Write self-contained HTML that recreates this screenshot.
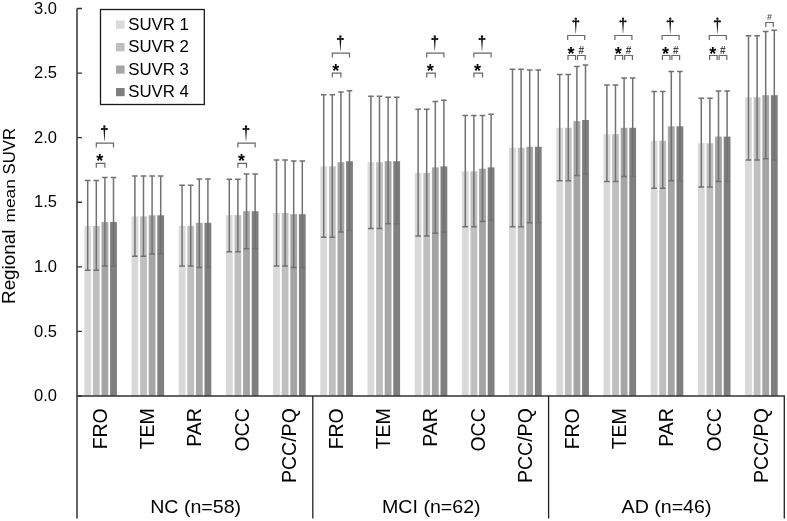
<!DOCTYPE html><html><head><meta charset="utf-8"><style>
html,body{margin:0;padding:0;background:#fff;}
body{width:787px;height:521px;overflow:hidden;}
svg{display:block;font-family:"Liberation Sans",sans-serif;filter:grayscale(1);}
</style></head><body>
<svg width="787" height="521" viewBox="0 0 787 521">
<rect width="787" height="521" fill="#fff"/>
<rect x="84.3" y="226" width="6.8" height="170" fill="#d9d9d9"/>
<rect x="92.9" y="226" width="6.8" height="170" fill="#bfbfbf"/>
<rect x="101.5" y="222" width="6.8" height="174" fill="#a5a5a5"/>
<rect x="110.1" y="222" width="6.8" height="174" fill="#7f7f7f"/>
<rect x="131.5" y="216.4" width="6.8" height="179.6" fill="#d9d9d9"/>
<rect x="140.1" y="216.4" width="6.8" height="179.6" fill="#bfbfbf"/>
<rect x="148.7" y="215.3" width="6.8" height="180.7" fill="#a5a5a5"/>
<rect x="157.3" y="215.3" width="6.8" height="180.7" fill="#7f7f7f"/>
<rect x="178.7" y="225.8" width="6.8" height="170.2" fill="#d9d9d9"/>
<rect x="187.3" y="225.8" width="6.8" height="170.2" fill="#bfbfbf"/>
<rect x="195.9" y="222.8" width="6.8" height="173.2" fill="#a5a5a5"/>
<rect x="204.5" y="222.8" width="6.8" height="173.2" fill="#7f7f7f"/>
<rect x="225.9" y="215.1" width="6.8" height="180.9" fill="#d9d9d9"/>
<rect x="234.5" y="215.1" width="6.8" height="180.9" fill="#bfbfbf"/>
<rect x="243.1" y="211.2" width="6.8" height="184.8" fill="#a5a5a5"/>
<rect x="251.7" y="211.2" width="6.8" height="184.8" fill="#7f7f7f"/>
<rect x="273.1" y="213" width="6.8" height="183" fill="#d9d9d9"/>
<rect x="281.7" y="213" width="6.8" height="183" fill="#bfbfbf"/>
<rect x="290.3" y="214.2" width="6.8" height="181.8" fill="#a5a5a5"/>
<rect x="298.9" y="214.2" width="6.8" height="181.8" fill="#7f7f7f"/>
<rect x="320.3" y="166.4" width="6.8" height="229.6" fill="#d9d9d9"/>
<rect x="328.9" y="166.4" width="6.8" height="229.6" fill="#bfbfbf"/>
<rect x="337.5" y="162.2" width="6.8" height="233.8" fill="#a5a5a5"/>
<rect x="346.1" y="161.2" width="6.8" height="234.8" fill="#7f7f7f"/>
<rect x="367.5" y="162.2" width="6.8" height="233.8" fill="#d9d9d9"/>
<rect x="376.1" y="162.2" width="6.8" height="233.8" fill="#bfbfbf"/>
<rect x="384.7" y="161.2" width="6.8" height="234.8" fill="#a5a5a5"/>
<rect x="393.3" y="161.2" width="6.8" height="234.8" fill="#7f7f7f"/>
<rect x="414.7" y="172.9" width="6.8" height="223.1" fill="#d9d9d9"/>
<rect x="423.3" y="172.9" width="6.8" height="223.1" fill="#bfbfbf"/>
<rect x="431.9" y="167.4" width="6.8" height="228.6" fill="#a5a5a5"/>
<rect x="440.5" y="166.4" width="6.8" height="229.6" fill="#7f7f7f"/>
<rect x="461.9" y="171.3" width="6.8" height="224.7" fill="#d9d9d9"/>
<rect x="470.5" y="171.3" width="6.8" height="224.7" fill="#bfbfbf"/>
<rect x="479.1" y="168.7" width="6.8" height="227.3" fill="#a5a5a5"/>
<rect x="487.7" y="167.4" width="6.8" height="228.6" fill="#7f7f7f"/>
<rect x="509.1" y="147.8" width="6.8" height="248.2" fill="#d9d9d9"/>
<rect x="517.7" y="147.8" width="6.8" height="248.2" fill="#bfbfbf"/>
<rect x="526.3" y="146.8" width="6.8" height="249.2" fill="#a5a5a5"/>
<rect x="534.9" y="146.8" width="6.8" height="249.2" fill="#7f7f7f"/>
<rect x="556.3" y="127.8" width="6.8" height="268.2" fill="#d9d9d9"/>
<rect x="564.9" y="127.8" width="6.8" height="268.2" fill="#bfbfbf"/>
<rect x="573.5" y="121.2" width="6.8" height="274.8" fill="#a5a5a5"/>
<rect x="582.1" y="120" width="6.8" height="276" fill="#7f7f7f"/>
<rect x="603.5" y="134.2" width="6.8" height="261.8" fill="#d9d9d9"/>
<rect x="612.1" y="134.2" width="6.8" height="261.8" fill="#bfbfbf"/>
<rect x="620.7" y="127.8" width="6.8" height="268.2" fill="#a5a5a5"/>
<rect x="629.3" y="127.8" width="6.8" height="268.2" fill="#7f7f7f"/>
<rect x="650.7" y="140.8" width="6.8" height="255.2" fill="#d9d9d9"/>
<rect x="659.3" y="140.8" width="6.8" height="255.2" fill="#bfbfbf"/>
<rect x="667.9" y="126.3" width="6.8" height="269.7" fill="#a5a5a5"/>
<rect x="676.5" y="126.3" width="6.8" height="269.7" fill="#7f7f7f"/>
<rect x="697.9" y="143.2" width="6.8" height="252.8" fill="#d9d9d9"/>
<rect x="706.5" y="143.2" width="6.8" height="252.8" fill="#bfbfbf"/>
<rect x="715.1" y="136.6" width="6.8" height="259.4" fill="#a5a5a5"/>
<rect x="723.7" y="136.6" width="6.8" height="259.4" fill="#7f7f7f"/>
<rect x="745.1" y="97.3" width="6.8" height="298.7" fill="#d9d9d9"/>
<rect x="753.7" y="97.3" width="6.8" height="298.7" fill="#bfbfbf"/>
<rect x="762.3" y="95.2" width="6.8" height="300.8" fill="#a5a5a5"/>
<rect x="770.9" y="95.2" width="6.8" height="300.8" fill="#7f7f7f"/>
<path d="M87.7 180.6V270.2M84.9 180.6H90.5M84.9 270.2H90.5M96.3 180.6V270.2M93.5 180.6H99.1M93.5 270.2H99.1M104.9 177.4V266M102.1 177.4H107.7M102.1 266H107.7M113.5 177.4V266M110.7 177.4H116.3M110.7 266H116.3M134.9 176.1V256.3M132.1 176.1H137.7M132.1 256.3H137.7M143.5 176.1V256.3M140.7 176.1H146.3M140.7 256.3H146.3M152.1 176.1V254M149.3 176.1H154.9M149.3 254H154.9M160.7 176.1V254M157.9 176.1H163.5M157.9 254H163.5M182.1 185.2V266M179.3 185.2H184.9M179.3 266H184.9M190.7 185.2V266M187.9 185.2H193.5M187.9 266H193.5M199.3 179.1V267.6M196.5 179.1H202.1M196.5 267.6H202.1M207.9 179.1V267.6M205.1 179.1H210.7M205.1 267.6H210.7M229.3 179.3V251.7M226.5 179.3H232.1M226.5 251.7H232.1M237.9 179.3V251.7M235.1 179.3H240.7M235.1 251.7H240.7M246.5 174V248.7M243.7 174H249.3M243.7 248.7H249.3M255.1 174V248.7M252.3 174H257.9M252.3 248.7H257.9M276.5 160V266M273.7 160H279.3M273.7 266H279.3M285.1 160V266M282.3 160H287.9M282.3 266H287.9M293.7 161.1V267.6M290.9 161.1H296.5M290.9 267.6H296.5M302.3 161.1V267.6M299.5 161.1H305.1M299.5 267.6H305.1M323.7 94.7V237.2M320.9 94.7H326.5M320.9 237.2H326.5M332.3 94.7V237.2M329.5 94.7H335.1M329.5 237.2H335.1M340.9 92.1V231.9M338.1 92.1H343.7M338.1 231.9H343.7M349.5 90.8V230.6M346.7 90.8H352.3M346.7 230.6H352.3M370.9 96.3V228.4M368.1 96.3H373.7M368.1 228.4H373.7M379.5 96.3V228.4M376.7 96.3H382.3M376.7 228.4H382.3M388.1 97.3V223.8M385.3 97.3H390.9M385.3 223.8H390.9M396.7 97.3V223.8M393.9 97.3H399.5M393.9 223.8H399.5M418.1 109.3V235.9M415.3 109.3H420.9M415.3 235.9H420.9M426.7 109.3V235.9M423.9 109.3H429.5M423.9 235.9H429.5M435.3 101.5V233.2M432.5 101.5H438.1M432.5 233.2H438.1M443.9 100.2V232.3M441.1 100.2H446.7M441.1 232.3H446.7M465.3 115.5V226.7M462.5 115.5H468.1M462.5 226.7H468.1M473.9 115.5V226.7M471.1 115.5H476.7M471.1 226.7H476.7M482.5 115.5V221.5M479.7 115.5H485.3M479.7 221.5H485.3M491.1 114.2V220.2M488.3 114.2H493.9M488.3 220.2H493.9M512.5 69.2V226.7M509.7 69.2H515.3M509.7 226.7H515.3M521.1 69.2V226.7M518.3 69.2H523.9M518.3 226.7H523.9M529.7 70.1V222.8M526.9 70.1H532.5M526.9 222.8H532.5M538.3 70.1V222.8M535.5 70.1H541.1M535.5 222.8H541.1M559.7 74.4V180.7M556.9 74.4H562.5M556.9 180.7H562.5M568.3 74.4V180.7M565.5 74.4H571.1M565.5 180.7H571.1M576.9 66.5V175.6M574.1 66.5H579.7M574.1 175.6H579.7M585.5 65V174.1M582.7 65H588.3M582.7 174.1H588.3M606.9 85V181.6M604.1 85H609.7M604.1 181.6H609.7M615.5 85V181.6M612.7 85H618.3M612.7 181.6H618.3M624.1 78V176.5M621.3 78H626.9M621.3 176.5H626.9M632.7 78V176.5M629.9 78H635.5M629.9 176.5H635.5M654.1 91.6V188.3M651.3 91.6H656.9M651.3 188.3H656.9M662.7 91.6V188.3M659.9 91.6H665.5M659.9 188.3H665.5M671.3 71.4V180.7M668.5 71.4H674.1M668.5 180.7H674.1M679.9 71.4V180.7M677.1 71.4H682.7M677.1 180.7H682.7M701.3 98.3V187.1M698.5 98.3H704.1M698.5 187.1H704.1M709.9 98.3V187.1M707.1 98.3H712.7M707.1 187.1H712.7M718.5 91V181.6M715.7 91H721.3M715.7 181.6H721.3M727.1 91V181.6M724.3 91H729.9M724.3 181.6H729.9M748.5 35.7V159.9M745.7 35.7H751.3M745.7 159.9H751.3M757.1 35.7V159.9M754.3 35.7H759.9M754.3 159.9H759.9M765.7 31.5V158.7M762.9 31.5H768.5M762.9 158.7H768.5M774.3 30.3V159.9M771.5 30.3H777.1M771.5 159.9H777.1" stroke="#717171" stroke-width="1.5" fill="none"/>
<path d="M77 8.5V518.5M76.25 396H784.9" stroke="#333" stroke-width="1.5" fill="none"/>
<path d="M77 396H82M77 331.42H82M77 266.83H82M77 202.25H82M77 137.66H82M77 73.08H82M77 8.49H82" stroke="#333" stroke-width="1.4" fill="none"/>
<path d="M312.8 396V518.5M548.6 396V518.5M784.3 396V518.5" stroke="#222" stroke-width="1.3" fill="none"/>
<text x="57" y="401.2" font-size="16.5" text-anchor="end" fill="#000">0.0</text>
<text x="57" y="336.62" font-size="16.5" text-anchor="end" fill="#000">0.5</text>
<text x="57" y="272.03" font-size="16.5" text-anchor="end" fill="#000">1.0</text>
<text x="57" y="207.44" font-size="16.5" text-anchor="end" fill="#000">1.5</text>
<text x="57" y="142.86" font-size="16.5" text-anchor="end" fill="#000">2.0</text>
<text x="57" y="78.28" font-size="16.5" text-anchor="end" fill="#000">2.5</text>
<text x="57" y="13.69" font-size="16.5" text-anchor="end" fill="#000">3.0</text>
<text transform="translate(15.3,304) rotate(-90)" font-size="18" textLength="74.5" lengthAdjust="spacingAndGlyphs" fill="#000">Regional</text>
<text transform="translate(15.3,222.6) rotate(-90)" font-size="15.5" textLength="43.5" lengthAdjust="spacingAndGlyphs" fill="#000">mean</text>
<text transform="translate(15.3,174.5) rotate(-90)" font-size="17" textLength="46.5" lengthAdjust="spacingAndGlyphs" fill="#000">SUVR</text>
<text transform="translate(107,408.2) rotate(-90)" font-size="19.5" text-anchor="end" fill="#000">FRO</text>
<text transform="translate(154.2,408.2) rotate(-90)" font-size="19.5" text-anchor="end" fill="#000">TEM</text>
<text transform="translate(201.4,408.2) rotate(-90)" font-size="19.5" text-anchor="end" fill="#000">PAR</text>
<text transform="translate(248.6,408.2) rotate(-90)" font-size="19.5" text-anchor="end" fill="#000">OCC</text>
<text transform="translate(295.8,408.2) rotate(-90)" font-size="19.5" text-anchor="end" fill="#000">PCC/PQ</text>
<text transform="translate(343,408.2) rotate(-90)" font-size="19.5" text-anchor="end" fill="#000">FRO</text>
<text transform="translate(390.2,408.2) rotate(-90)" font-size="19.5" text-anchor="end" fill="#000">TEM</text>
<text transform="translate(437.4,408.2) rotate(-90)" font-size="19.5" text-anchor="end" fill="#000">PAR</text>
<text transform="translate(484.6,408.2) rotate(-90)" font-size="19.5" text-anchor="end" fill="#000">OCC</text>
<text transform="translate(531.8,408.2) rotate(-90)" font-size="19.5" text-anchor="end" fill="#000">PCC/PQ</text>
<text transform="translate(579,408.2) rotate(-90)" font-size="19.5" text-anchor="end" fill="#000">FRO</text>
<text transform="translate(626.2,408.2) rotate(-90)" font-size="19.5" text-anchor="end" fill="#000">TEM</text>
<text transform="translate(673.4,408.2) rotate(-90)" font-size="19.5" text-anchor="end" fill="#000">PAR</text>
<text transform="translate(720.6,408.2) rotate(-90)" font-size="19.5" text-anchor="end" fill="#000">OCC</text>
<text transform="translate(767.8,408.2) rotate(-90)" font-size="19.5" text-anchor="end" fill="#000">PCC/PQ</text>
<text transform="translate(195.6,513.2) scale(1.06,1)" font-size="18.5" text-anchor="middle" fill="#000">NC (n=58)</text>
<text transform="translate(431.3,513.2) scale(1.06,1)" font-size="18.5" text-anchor="middle" fill="#000">MCI (n=62)</text>
<text transform="translate(666.5,513.2) scale(1.06,1)" font-size="18.5" text-anchor="middle" fill="#000">AD (n=46)</text>
<rect x="100.5" y="9.5" width="103.8" height="95" fill="#fff" stroke="#1a1a1a" stroke-width="1.3"/>
<rect x="116" y="20.5" width="8.6" height="8.2" fill="#d9d9d9"/>
<text transform="translate(128.2,29.6) scale(1.02,1)" font-size="16.5" fill="#000">SUVR 1</text>
<rect x="116" y="43" width="8.6" height="8.2" fill="#bfbfbf"/>
<text transform="translate(128.2,52.1) scale(1.02,1)" font-size="16.5" fill="#000">SUVR 2</text>
<rect x="116" y="65.5" width="8.6" height="8.2" fill="#a5a5a5"/>
<text transform="translate(128.2,74.6) scale(1.02,1)" font-size="16.5" fill="#000">SUVR 3</text>
<rect x="116" y="88" width="8.6" height="8.2" fill="#7f7f7f"/>
<text transform="translate(128.2,97.1) scale(1.02,1)" font-size="16.5" fill="#000">SUVR 4</text>
<text x="99.8" y="167.3" font-size="18" font-weight="bold" text-anchor="middle" fill="#000">*</text>
<text x="241.4" y="167.3" font-size="18" font-weight="bold" text-anchor="middle" fill="#000">*</text>
<text x="335.8" y="77.2" font-size="18" font-weight="bold" text-anchor="middle" fill="#000">*</text>
<text x="430.2" y="77.2" font-size="18" font-weight="bold" text-anchor="middle" fill="#000">*</text>
<text x="477.4" y="77.2" font-size="18" font-weight="bold" text-anchor="middle" fill="#000">*</text>
<text x="571.1" y="59.5" font-size="18" font-weight="bold" text-anchor="middle" fill="#000">*</text>
<text x="581.3" y="54" font-size="10" font-weight="bold" text-anchor="middle" fill="#444">#</text>
<text x="618.3" y="59.5" font-size="18" font-weight="bold" text-anchor="middle" fill="#000">*</text>
<text x="628.5" y="54" font-size="10" font-weight="bold" text-anchor="middle" fill="#444">#</text>
<text x="665.5" y="59.5" font-size="18" font-weight="bold" text-anchor="middle" fill="#000">*</text>
<text x="675.7" y="54" font-size="10" font-weight="bold" text-anchor="middle" fill="#444">#</text>
<text x="712.7" y="59.5" font-size="18" font-weight="bold" text-anchor="middle" fill="#000">*</text>
<text x="722.9" y="54" font-size="10" font-weight="bold" text-anchor="middle" fill="#444">#</text>
<text x="769.5" y="20.1" font-size="9" font-weight="bold" text-anchor="middle" fill="#555">#</text>
<path d="M96.3 147.5V143.1H113.5V147.5M96.3 167.7V163.3H104.9V167.7M237.9 147.5V143.1H255.1V147.5M237.9 167.7V163.3H246.5V167.7M332.3 57.5V53.1H349.5V57.5M332.3 77.6V73.2H340.9V77.6M426.7 57.5V53.1H443.9V57.5M426.7 77.6V73.2H435.3V77.6M473.9 57.5V53.1H491.1V57.5M473.9 77.6V73.2H482.5V77.6M567.7 39.9V35.5H584.7V39.9M568 59.9V55.5H575.5V59.9M577.5 59.9V55.5H585.2V59.9M614.9 39.9V35.5H631.9V39.9M615.2 59.9V55.5H622.7V59.9M624.7 59.9V55.5H632.4V59.9M662.1 39.9V35.5H679.1V39.9M662.4 59.9V55.5H669.9V59.9M671.9 59.9V55.5H679.6V59.9M709.3 39.9V35.5H726.3V39.9M709.6 59.9V55.5H717.1V59.9M719.1 59.9V55.5H726.8V59.9M765.8 26.9V22.5H773.3V26.9" stroke="#666" stroke-width="1.2" fill="none"/>
<path d="M103.2 126.5a1.2 1.3 0 1 0 2.4 0a1.2 1.3 0 1 0 -2.4 0ZM100.8 129a1.05 1.05 0 1 0 2.1 0a1.05 1.05 0 1 0 -2.1 0ZM105.9 129a1.05 1.05 0 1 0 2.1 0a1.05 1.05 0 1 0 -2.1 0ZM103.4 127.4L105.4 127.4L104.55 140.8L104.25 140.8ZM244.8 126.5a1.2 1.3 0 1 0 2.4 0a1.2 1.3 0 1 0 -2.4 0ZM242.4 129a1.05 1.05 0 1 0 2.1 0a1.05 1.05 0 1 0 -2.1 0ZM247.5 129a1.05 1.05 0 1 0 2.1 0a1.05 1.05 0 1 0 -2.1 0ZM245 127.4L247 127.4L246.15 140.8L245.85 140.8ZM339.2 36.5a1.2 1.3 0 1 0 2.4 0a1.2 1.3 0 1 0 -2.4 0ZM336.8 39a1.05 1.05 0 1 0 2.1 0a1.05 1.05 0 1 0 -2.1 0ZM341.9 39a1.05 1.05 0 1 0 2.1 0a1.05 1.05 0 1 0 -2.1 0ZM339.4 37.4L341.4 37.4L340.55 50.8L340.25 50.8ZM433.6 36.5a1.2 1.3 0 1 0 2.4 0a1.2 1.3 0 1 0 -2.4 0ZM431.2 39a1.05 1.05 0 1 0 2.1 0a1.05 1.05 0 1 0 -2.1 0ZM436.3 39a1.05 1.05 0 1 0 2.1 0a1.05 1.05 0 1 0 -2.1 0ZM433.8 37.4L435.8 37.4L434.95 50.8L434.65 50.8ZM480.8 36.5a1.2 1.3 0 1 0 2.4 0a1.2 1.3 0 1 0 -2.4 0ZM478.4 39a1.05 1.05 0 1 0 2.1 0a1.05 1.05 0 1 0 -2.1 0ZM483.5 39a1.05 1.05 0 1 0 2.1 0a1.05 1.05 0 1 0 -2.1 0ZM481 37.4L483 37.4L482.15 50.8L481.85 50.8ZM574.6 18.9a1.2 1.3 0 1 0 2.4 0a1.2 1.3 0 1 0 -2.4 0ZM572.2 21.4a1.05 1.05 0 1 0 2.1 0a1.05 1.05 0 1 0 -2.1 0ZM577.3 21.4a1.05 1.05 0 1 0 2.1 0a1.05 1.05 0 1 0 -2.1 0ZM574.8 19.8L576.8 19.8L575.95 33.2L575.65 33.2ZM621.8 18.9a1.2 1.3 0 1 0 2.4 0a1.2 1.3 0 1 0 -2.4 0ZM619.4 21.4a1.05 1.05 0 1 0 2.1 0a1.05 1.05 0 1 0 -2.1 0ZM624.5 21.4a1.05 1.05 0 1 0 2.1 0a1.05 1.05 0 1 0 -2.1 0ZM622 19.8L624 19.8L623.15 33.2L622.85 33.2ZM669 18.9a1.2 1.3 0 1 0 2.4 0a1.2 1.3 0 1 0 -2.4 0ZM666.6 21.4a1.05 1.05 0 1 0 2.1 0a1.05 1.05 0 1 0 -2.1 0ZM671.7 21.4a1.05 1.05 0 1 0 2.1 0a1.05 1.05 0 1 0 -2.1 0ZM669.2 19.8L671.2 19.8L670.35 33.2L670.05 33.2ZM716.2 18.9a1.2 1.3 0 1 0 2.4 0a1.2 1.3 0 1 0 -2.4 0ZM713.8 21.4a1.05 1.05 0 1 0 2.1 0a1.05 1.05 0 1 0 -2.1 0ZM718.9 21.4a1.05 1.05 0 1 0 2.1 0a1.05 1.05 0 1 0 -2.1 0ZM716.4 19.8L718.4 19.8L717.55 33.2L717.25 33.2Z" fill="#111"/>
<path d="M101.8 129H107M243.4 129H248.6M337.8 39H343M432.2 39H437.4M479.4 39H484.6M573.2 21.4H578.4M620.4 21.4H625.6M667.6 21.4H672.8M714.8 21.4H720" stroke="#111" stroke-width="1.35" fill="none"/>
</svg></body></html>
